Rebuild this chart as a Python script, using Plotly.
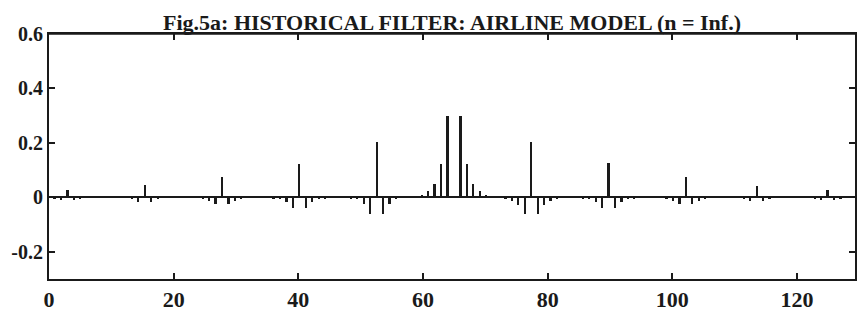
import plotly.graph_objects as go

# ---- data ----
title_text = "Fig.5a: HISTORICAL FILTER: AIRLINE MODEL (n = Inf.)"

# filter lags (months), centre of the filter sits at x = 65 on the plotted axis
lags = list(range(-62, 63))
centre_x = 65.0
x_per_lag = 12.4 / 12.0   # the plotted axis spaces the 12-month spikes 12.4 units apart

# weights for lags -62 .. -1
weights_left = [
    -0.004, -0.008, 0.027, -0.008, -0.004, -0.002, -0.001, -0.001, -0.001, -0.001,
    -0.002, -0.002, -0.006, -0.016, 0.045, -0.016, -0.006, -0.002, -0.001, -0.001,
    -0.001, -0.002, -0.002, -0.004, -0.013, -0.025, 0.074, -0.025, -0.013, -0.004,
    -0.002, -0.002, -0.002, -0.002, -0.003, -0.005, -0.017, -0.039, 0.124, -0.039,
    -0.017, -0.005, -0.003, -0.002, -0.002, -0.002, -0.003, -0.006, -0.024, -0.060,
    0.205, -0.060, -0.024, -0.006, 0.001, 0.003, 0.006, 0.010, 0.022, 0.050,
    0.121, 0.300,
]
weight_centre = [0.000]
# weights for lags 1 .. 62
weights_right = [
    0.300, 0.121, 0.050, 0.022, 0.010, 0.005, 0.003, -0.003, -0.012, -0.027,
    -0.063, 0.205, -0.063, -0.027, -0.012, -0.003, -0.002, -0.002, -0.002, -0.003,
    -0.005, -0.017, -0.039, 0.127, -0.039, -0.017, -0.005, -0.003, -0.002, -0.002,
    -0.002, -0.002, -0.004, -0.013, -0.025, 0.075, -0.025, -0.012, -0.004, -0.002,
    -0.001, -0.001, -0.001, -0.002, -0.006, -0.015, 0.043, -0.015, -0.006, -0.002,
    -0.001, -0.001, -0.001, -0.001, -0.002, -0.004, -0.008, 0.026, -0.008, -0.004,
    -0.002, -0.001,
]
weights = weights_left + weight_centre + weights_right

x_tick_values = [0, 20, 40, 60, 80, 100, 120]
x_tick_labels = ["0", "20", "40", "60", "80", "100", "120"]
y_tick_values = [0.6, 0.4, 0.2, 0, -0.2]
y_tick_labels = ["0.6", "0.4", "0.2", "0", "-0.2"]

positions = [centre_x + k * x_per_lag for k in lags]

serif = "Liberation Serif, Times New Roman, serif"
ink = "#1a1a1a"
x_range = [0, 129.3]
y_range = [-0.3, 0.6]

fig = go.Figure()
fig.add_trace(go.Bar(
    x=positions, y=weights, width=0.28,
    marker=dict(color=ink, line=dict(width=0)),
    showlegend=False, hoverinfo="x+y",
))

fig.update_layout(
    width=857, height=313,
    margin=dict(l=49, r=0, t=34, b=34),
    paper_bgcolor="white", plot_bgcolor="white",
    bargap=0,
    title=dict(
        text=title_text, x=0.5, xref="paper", xanchor="center",
        y=1.0, yref="paper", yanchor="bottom", pad=dict(b=4, t=0),
        font=dict(family=serif, size=22, color=ink, weight="bold"),
    ),
    xaxis=dict(
        range=x_range,
        tickvals=x_tick_values, ticktext=x_tick_labels,
        ticks="inside", ticklen=6, tickwidth=2, tickcolor=ink,
        showline=True, linewidth=2, linecolor=ink, mirror="ticks",
        showgrid=False, zeroline=False,
        tickfont=dict(family=serif, size=22, color=ink, weight="bold"),
    ),
    yaxis=dict(
        range=y_range,
        tickvals=y_tick_values, ticktext=y_tick_labels,
        ticks="inside", ticklen=6, tickwidth=2, tickcolor=ink,
        showline=True, linewidth=2, linecolor=ink, mirror="ticks",
        showgrid=False,
        zeroline=True, zerolinecolor=ink, zerolinewidth=2,
        tickfont=dict(family=serif, size=20, color=ink, weight="bold"),
    ),
    shapes=[dict(
        type="rect", xref="paper", yref="paper",
        x0=0, x1=1, y0=0.997, y1=1.006,
        fillcolor=ink, line=dict(width=0), layer="above",
    )],
)

fig.write_html(
    "out.html",
    config={"displayModeBar": False},
    post_script="document.body.style.margin='0';document.body.style.overflow='hidden';",
)
